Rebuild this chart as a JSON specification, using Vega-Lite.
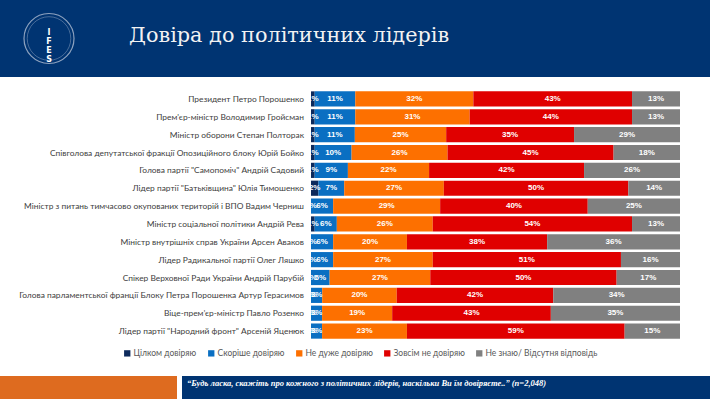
{
  "$schema": "https://vega.github.io/schema/vega-lite/v6.json",
  "padding": 0,
  "background": "white",
  "columns": 1,
  "spacing": 13,
  "align": "none",
  "resolve": {"legend": {"color": "independent"}},
  "config": {"view": {"stroke": null}},
  "datasets": {
    "trust": [
      {"leader": "Президент Петро Порошенко", "answer": "Цілком довіряю", "pct": 1},
      {"leader": "Президент Петро Порошенко", "answer": "Скоріше довіряю", "pct": 11},
      {"leader": "Президент Петро Порошенко", "answer": "Не дуже довіряю", "pct": 32},
      {"leader": "Президент Петро Порошенко", "answer": "Зовсім не довіряю", "pct": 43},
      {"leader": "Президент Петро Порошенко", "answer": "Не знаю/ Відсутня відповідь", "pct": 13},
      {"leader": "Прем'єр-міністр Володимир Гройсман", "answer": "Цілком довіряю", "pct": 1},
      {"leader": "Прем'єр-міністр Володимир Гройсман", "answer": "Скоріше довіряю", "pct": 11},
      {"leader": "Прем'єр-міністр Володимир Гройсман", "answer": "Не дуже довіряю", "pct": 31},
      {"leader": "Прем'єр-міністр Володимир Гройсман", "answer": "Зовсім не довіряю", "pct": 44},
      {"leader": "Прем'єр-міністр Володимир Гройсман", "answer": "Не знаю/ Відсутня відповідь", "pct": 13},
      {"leader": "Міністр оборони Степан Полторак", "answer": "Цілком довіряю", "pct": 1},
      {"leader": "Міністр оборони Степан Полторак", "answer": "Скоріше довіряю", "pct": 11},
      {"leader": "Міністр оборони Степан Полторак", "answer": "Не дуже довіряю", "pct": 25},
      {"leader": "Міністр оборони Степан Полторак", "answer": "Зовсім не довіряю", "pct": 35},
      {"leader": "Міністр оборони Степан Полторак", "answer": "Не знаю/ Відсутня відповідь", "pct": 29},
      {"leader": "Співголова депутатської фракції Опозиційного блоку Юрій Бойко", "answer": "Цілком довіряю", "pct": 1},
      {"leader": "Співголова депутатської фракції Опозиційного блоку Юрій Бойко", "answer": "Скоріше довіряю", "pct": 10},
      {"leader": "Співголова депутатської фракції Опозиційного блоку Юрій Бойко", "answer": "Не дуже довіряю", "pct": 26},
      {"leader": "Співголова депутатської фракції Опозиційного блоку Юрій Бойко", "answer": "Зовсім не довіряю", "pct": 45},
      {"leader": "Співголова депутатської фракції Опозиційного блоку Юрій Бойко", "answer": "Не знаю/ Відсутня відповідь", "pct": 18},
      {"leader": "Голова партії \"Самопоміч\" Андрій Садовий", "answer": "Цілком довіряю", "pct": 1},
      {"leader": "Голова партії \"Самопоміч\" Андрій Садовий", "answer": "Скоріше довіряю", "pct": 9},
      {"leader": "Голова партії \"Самопоміч\" Андрій Садовий", "answer": "Не дуже довіряю", "pct": 22},
      {"leader": "Голова партії \"Самопоміч\" Андрій Садовий", "answer": "Зовсім не довіряю", "pct": 42},
      {"leader": "Голова партії \"Самопоміч\" Андрій Садовий", "answer": "Не знаю/ Відсутня відповідь", "pct": 26},
      {"leader": "Лідер партії \"Батьківщина\" Юлія Тимошенко", "answer": "Цілком довіряю", "pct": 2},
      {"leader": "Лідер партії \"Батьківщина\" Юлія Тимошенко", "answer": "Скоріше довіряю", "pct": 7},
      {"leader": "Лідер партії \"Батьківщина\" Юлія Тимошенко", "answer": "Не дуже довіряю", "pct": 27},
      {"leader": "Лідер партії \"Батьківщина\" Юлія Тимошенко", "answer": "Зовсім не довіряю", "pct": 50},
      {"leader": "Лідер партії \"Батьківщина\" Юлія Тимошенко", "answer": "Не знаю/ Відсутня відповідь", "pct": 14},
      {"leader": "Міністр з питань тимчасово окупованих територій і ВПО Вадим Черниш", "answer": "Цілком довіряю", "pct": 0},
      {"leader": "Міністр з питань тимчасово окупованих територій і ВПО Вадим Черниш", "answer": "Скоріше довіряю", "pct": 6},
      {"leader": "Міністр з питань тимчасово окупованих територій і ВПО Вадим Черниш", "answer": "Не дуже довіряю", "pct": 29},
      {"leader": "Міністр з питань тимчасово окупованих територій і ВПО Вадим Черниш", "answer": "Зовсім не довіряю", "pct": 40},
      {"leader": "Міністр з питань тимчасово окупованих територій і ВПО Вадим Черниш", "answer": "Не знаю/ Відсутня відповідь", "pct": 25},
      {"leader": "Міністр соціальної політики Андрій Рева", "answer": "Цілком довіряю", "pct": 1},
      {"leader": "Міністр соціальної політики Андрій Рева", "answer": "Скоріше довіряю", "pct": 6},
      {"leader": "Міністр соціальної політики Андрій Рева", "answer": "Не дуже довіряю", "pct": 26},
      {"leader": "Міністр соціальної політики Андрій Рева", "answer": "Зовсім не довіряю", "pct": 54},
      {"leader": "Міністр соціальної політики Андрій Рева", "answer": "Не знаю/ Відсутня відповідь", "pct": 13},
      {"leader": "Міністр внутрішніх справ України Арсен Аваков", "answer": "Цілком довіряю", "pct": 0},
      {"leader": "Міністр внутрішніх справ України Арсен Аваков", "answer": "Скоріше довіряю", "pct": 6},
      {"leader": "Міністр внутрішніх справ України Арсен Аваков", "answer": "Не дуже довіряю", "pct": 20},
      {"leader": "Міністр внутрішніх справ України Арсен Аваков", "answer": "Зовсім не довіряю", "pct": 38},
      {"leader": "Міністр внутрішніх справ України Арсен Аваков", "answer": "Не знаю/ Відсутня відповідь", "pct": 36},
      {"leader": "Лідер Радикальної партії Олег Ляшко", "answer": "Цілком довіряю", "pct": 0},
      {"leader": "Лідер Радикальної партії Олег Ляшко", "answer": "Скоріше довіряю", "pct": 6},
      {"leader": "Лідер Радикальної партії Олег Ляшко", "answer": "Не дуже довіряю", "pct": 27},
      {"leader": "Лідер Радикальної партії Олег Ляшко", "answer": "Зовсім не довіряю", "pct": 51},
      {"leader": "Лідер Радикальної партії Олег Ляшко", "answer": "Не знаю/ Відсутня відповідь", "pct": 16},
      {"leader": "Спікер Верховної Ради України Андрій Парубій", "answer": "Цілком довіряю", "pct": 0},
      {"leader": "Спікер Верховної Ради України Андрій Парубій", "answer": "Скоріше довіряю", "pct": 5},
      {"leader": "Спікер Верховної Ради України Андрій Парубій", "answer": "Не дуже довіряю", "pct": 27},
      {"leader": "Спікер Верховної Ради України Андрій Парубій", "answer": "Зовсім не довіряю", "pct": 50},
      {"leader": "Спікер Верховної Ради України Андрій Парубій", "answer": "Не знаю/ Відсутня відповідь", "pct": 17},
      {"leader": "Голова парламентської франції Блоку Петра Порошенка Артур Герасимов", "answer": "Цілком довіряю", "pct": 0},
      {"leader": "Голова парламентської франції Блоку Петра Порошенка Артур Герасимов", "answer": "Скоріше довіряю", "pct": 3},
      {"leader": "Голова парламентської франції Блоку Петра Порошенка Артур Герасимов", "answer": "Не дуже довіряю", "pct": 20},
      {"leader": "Голова парламентської франції Блоку Петра Порошенка Артур Герасимов", "answer": "Зовсім не довіряю", "pct": 42},
      {"leader": "Голова парламентської франції Блоку Петра Порошенка Артур Герасимов", "answer": "Не знаю/ Відсутня відповідь", "pct": 34},
      {"leader": "Віце-прем’єр-міністр Павло Розенко", "answer": "Цілком довіряю", "pct": 0},
      {"leader": "Віце-прем’єр-міністр Павло Розенко", "answer": "Скоріше довіряю", "pct": 3},
      {"leader": "Віце-прем’єр-міністр Павло Розенко", "answer": "Не дуже довіряю", "pct": 19},
      {"leader": "Віце-прем’єр-міністр Павло Розенко", "answer": "Зовсім не довіряю", "pct": 43},
      {"leader": "Віце-прем’єр-міністр Павло Розенко", "answer": "Не знаю/ Відсутня відповідь", "pct": 35},
      {"leader": "Лідер партії \"Народний фронт\" Арсеній Яценюк", "answer": "Цілком довіряю", "pct": 0},
      {"leader": "Лідер партії \"Народний фронт\" Арсеній Яценюк", "answer": "Скоріше довіряю", "pct": 3},
      {"leader": "Лідер партії \"Народний фронт\" Арсеній Яценюк", "answer": "Не дуже довіряю", "pct": 23},
      {"leader": "Лідер партії \"Народний фронт\" Арсеній Яценюк", "answer": "Зовсім не довіряю", "pct": 59},
      {"leader": "Лідер партії \"Народний фронт\" Арсеній Яценюк", "answer": "Не знаю/ Відсутня відповідь", "pct": 15}
    ]
  },
  "concat": [
    {
      "spacing": 0,
      "hconcat": [
        {
          "width": 98,
          "height": 77,
          "view": {"fill": "#003472", "stroke": null},
          "data": {"values": [{"logo": "I\nF\nE\nS"}]},
          "layer": [
            {
              "mark": {"type": "point", "shape": "circle", "size": 2500, "filled": false, "stroke": "#c9d1e0", "strokeWidth": 1.2},
              "encoding": {}
            },
            {
              "mark": {"type": "point", "shape": "circle", "size": 1900, "filled": false, "stroke": "#c9d1e0", "strokeWidth": 0.6, "opacity": 0.6},
              "encoding": {}
            },
            {
              "mark": {"type": "text", "color": "white", "font": "DejaVu Sans", "fontWeight": "bold", "fontSize": 8, "lineBreak": "\n", "lineHeight": 9, "baseline": "middle", "dy": -5.5},
              "encoding": {"text": {"field": "logo"}}
            }
          ]
        },
        {
          "width": 612,
          "height": 77,
          "view": {"fill": "#003472", "stroke": null},
          "title": {
            "text": "Довіра до політичних лідерів",
            "orient": "top",
            "anchor": "start",
            "frame": "group",
            "offset": -63,
            "dx": 31,
            "baseline": "alphabetic",
            "font": "DejaVu Serif",
            "fontSize": 20.8,
            "fontWeight": "normal",
            "color": "#f2f2f2"
          },
          "data": {"values": [{"blank": ""}]},
          "mark": {"type": "text"},
          "encoding": {"text": {"field": "blank"}}
        }
      ]
    },
    {
      "spacing": 0,
      "bounds": "flush",
      "data": {"name": "trust"},
      "hconcat": [
        {
          "width": 311,
          "height": 250,
          "transform": [{"filter": "datum.answer === 'Цілком довіряю'"}],
          "mark": {"type": "text", "align": "right", "baseline": "middle", "dx": -7, "font": "Lato", "fontSize": 8.4, "color": "#404040"},
          "encoding": {
            "y": {"field": "leader", "type": "nominal", "sort": null, "axis": null, "scale": {"paddingInner": 0.15, "paddingOuter": 0.075}},
            "x": {"datum": 1, "type": "quantitative", "axis": null, "scale": {"domain": [0, 1], "nice": false}},
            "text": {"field": "leader"}
          }
        },
        {
          "width": 369,
          "height": 250,
          "transform": [
            {"calculate": "indexof(['Цілком довіряю','Скоріше довіряю','Не дуже довіряю','Зовсім не довіряю','Не знаю/ Відсутня відповідь'], datum.answer)", "as": "ord"},
            {"stack": "pct", "groupby": ["leader"], "sort": [{"field": "ord", "order": "ascending"}], "offset": "normalize", "as": ["x0", "x1"]},
            {"calculate": "(datum.x0 + datum.x1) / 2", "as": "mid"},
            {"calculate": "datum.pct + '%'", "as": "label"}
          ],
          "encoding": {
            "y": {
              "field": "leader",
              "type": "nominal",
              "sort": null,
              "axis": null,
              "scale": {"paddingInner": 0.15, "paddingOuter": 0.075}
            }
          },
          "layer": [
            {
              "mark": {"type": "bar"},
              "encoding": {
                "x": {"field": "x0", "type": "quantitative", "axis": null, "scale": {"domain": [0, 1], "nice": false, "zero": false}},
                "x2": {"field": "x1"},
                "color": {
                  "field": "answer",
                  "type": "nominal",
                  "scale": {
                    "domain": ["Цілком довіряю", "Скоріше довіряю", "Не дуже довіряю", "Зовсім не довіряю", "Не знаю/ Відсутня відповідь"],
                    "range": ["#0d2a5c", "#0a6fc2", "#fd7000", "#e00000", "#808080"]
                  },
                  "legend": {
                    "title": null,
                    "orient": "none",
                    "legendX": 118,
                    "legendY": 254,
                    "padding": 5,
                    "direction": "horizontal",
                    "symbolType": "square",
                    "symbolSize": 40,
                    "symbolStrokeWidth": 0,
                    "labelFont": "Lato",
                    "labelFontSize": 8.5,
                    "labelColor": "#595959",
                    "labelOffset": 2,
                    "columnPadding": 10
                  }
                }
              }
            },
            {
              "mark": {"type": "text", "color": "white", "font": "Liberation Sans", "fontWeight": "bold", "fontSize": 8},
              "encoding": {
                "x": {"field": "mid", "type": "quantitative"},
                "text": {"field": "label"}
              }
            }
          ]
        }
      ]
    },
    {
      "spacing": 5,
      "hconcat": [
        {
          "width": 177,
          "height": 24,
          "view": {"fill": "#de6b1f", "stroke": null},
          "data": {"values": [{"blank": ""}]},
          "mark": {"type": "text"},
          "encoding": {"text": {"field": "blank"}}
        },
        {
          "width": 528,
          "height": 24,
          "view": {"fill": "#003472", "stroke": null},
          "title": {
            "text": "“Будь ласка, скажіть про кожного з політичних лідерів, наскільки Ви їм довіряєте..” (n=2,048)",
            "orient": "top",
            "anchor": "start",
            "frame": "group",
            "offset": -18,
            "dx": 5,
            "baseline": "alphabetic",
            "font": "Liberation Sans Narrow",
            "fontSize": 8.5,
            "fontStyle": "italic",
            "fontWeight": "bold",
            "color": "white"
          },
          "data": {"values": [{"blank": ""}]},
          "mark": {"type": "text"},
          "encoding": {"text": {"field": "blank"}}
        }
      ]
    }
  ]
}
